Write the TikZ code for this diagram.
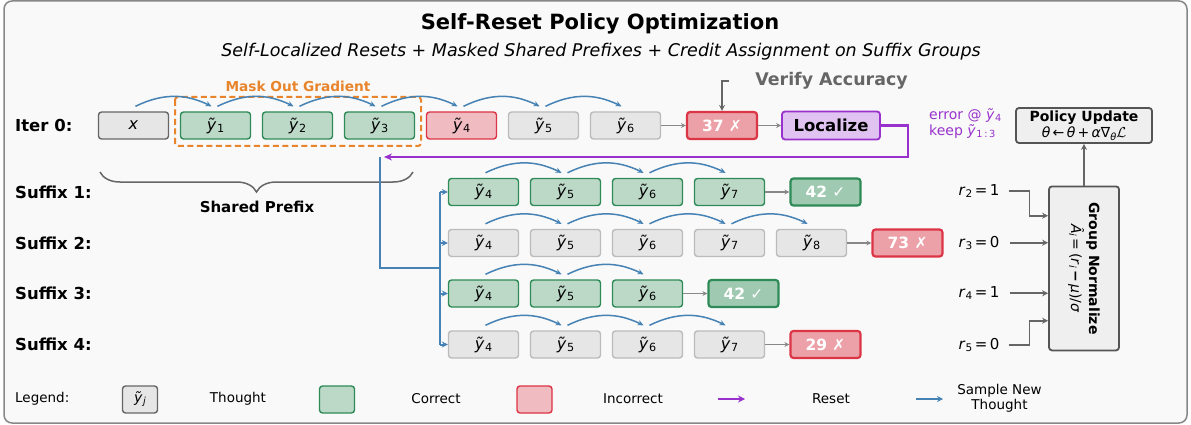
\documentclass[tikz,border=0pt]{standalone}
\usepackage{fontspec}
\setmainfont{DejaVu Sans}
\newfontfamily\symf{DejaVu Sans}
\usetikzlibrary{arrows.meta,calc,decorations.pathreplacing}
\definecolor{bgc}{HTML}{F9F9F9}
\definecolor{bgline}{HTML}{888888}
\definecolor{gfill}{HTML}{BCD9C8}
\definecolor{gline}{HTML}{2E8B57}
\definecolor{grfill}{HTML}{9FCAB1}
\definecolor{rfill}{HTML}{F0BBC1}
\definecolor{rline}{HTML}{DC3545}
\definecolor{rrfill}{HTML}{ECA1A8}
\definecolor{yfill}{HTML}{E6E6E6}
\definecolor{yline}{HTML}{BBBBBB}
\definecolor{dline}{HTML}{666666}
\definecolor{sblue}{HTML}{4682B4}
\definecolor{rpurple}{HTML}{9932CC}
\definecolor{lfill}{HTML}{E0C3F0}
\definecolor{orng}{HTML}{E8852C}
\definecolor{pfill}{HTML}{EFEFEF}
\definecolor{pline}{HTML}{555555}
\definecolor{carr}{HTML}{888888}
\newcommand\fsz[2]{\fontsize{#1pt}{#2pt}\selectfont}
\newcommand\sbs[1]{\raisebox{-0.15em}{\scalebox{0.7}{#1}}}
\newcommand\yt[1]{\textit{ỹ}\kern0.6pt\sbs{#1}}
\tikzset{
  box/.style={rounded corners=3pt, minimum width=70pt, minimum height=27pt, line width=1.4pt, inner sep=0pt, font=\fsz{16}{19}},
  gbox/.style={box, fill=gfill, draw=gline},
  ybox/.style={box, fill=yfill, draw=yline},
  rbox/.style={box, fill=rfill, draw=rline},
  xbox/.style={box, fill=yfill, draw=dline},
  res/.style={box, line width=2.2pt, text=white, font=\fsz{15.5}{18}\bfseries},
  gres/.style={res, fill=grfill, draw=gline},
  rres/.style={res, fill=rrfill, draw=rline},
  samp/.style={draw=sblue, line width=1.5pt, -{Stealth[length=6pt,width=5.5pt]}},
  carrow/.style={draw=carr, line width=1.2pt, -{Stealth[length=5pt,width=5pt]}},
  garr/.style={draw=dline, line width=1.8pt, -{Stealth[length=6pt,width=6pt]}},
  trunk/.style={draw=sblue, line width=2pt},
  lab/.style={anchor=west, inner sep=0pt, font=\fsz{16.5}{20}\bfseries},
  rlab/.style={inner sep=0pt, font=\fsz{15}{18}},
  leg/.style={inner sep=0pt, font=\fsz{13.5}{16}},
}
\begin{document}
\begin{tikzpicture}[x=1pt,y=-1pt]
\useasboundingbox (0,0) rectangle (1191,425);
\fill[white] (0,0) rectangle (1191,425);
\draw[fill=bgc, draw=bgline, line width=1.5pt, rounded corners=8pt] (4,1) rectangle (1187,423);

% title
\node[inner sep=0pt, font=\fsz{21}{25}\bfseries] (title) at (600,24) {Self-Reset Policy Optimization};
\node[inner sep=0pt, font=\fsz{17.5}{20}\itshape] (sub) at (601,52) {Self-Localized Resets + Masked Shared Prefixes + Credit Assignment on Suffix Groups};

% row labels
\node[lab] (l0) at (15,125.5) {Iter 0:};
\node[lab] (l1) at (15,192) {Suffix 1:};
\node[lab] (l2) at (15,243) {Suffix 2:};
\node[lab] (l3) at (15,293.5) {Suffix 3:};
\node[lab] (l4) at (15,344.5) {Suffix 4:};

% mask box
\draw[orng, line width=2pt, dash pattern=on 6pt off 3.5pt, rounded corners=3pt] (175,97) rectangle (421,146);
\node[inner sep=0pt, text=orng, font=\fsz{13.7}{16}\bfseries] (mask) at (298,86) {Mask Out Gradient};

% iter 0 row
\node[xbox] (x0) at (133.5,125.5) {\textit{x}};
\node[gbox] (a1) at (215.5,125.5) {\yt{1}};
\node[gbox] (a2) at (297.5,125.5) {\yt{2}};
\node[gbox] (a3) at (379.5,125.5) {\yt{3}};
\node[rbox] (a4) at (461.5,125.5) {\yt{4}};
\node[ybox] (a5) at (543.5,125.5) {\yt{5}};
\node[ybox] (a6) at (625.5,125.5) {\yt{6}};
\node[rres] (r0) at (722,125.5) {37 {\symf\mdseries ✗}};
\node[box, minimum width=98pt, minimum height=28pt, fill=lfill, draw=rpurple, line width=1.8pt, font=\fsz{16.5}{20}\bfseries] (loc) at (831,125.5) {Localize};
\foreach \a/\b in {x0/a1,a1/a2,a2/a3,a3/a4,a4/a5,a5/a6}
  \draw[samp] ($(\a.north)+(2,-5)$) to[bend left=26] ($(\b.north)+(-4,-5)$);
\draw[carrow] (a6.east) -- (r0.west);
\draw[carrow] (r0.east) -- (loc.west);

% verify
\node[inner sep=0pt, text=dline, font=\fsz{17.4}{20}\bfseries] (ver) at (831.5,81) {Verify Accuracy};
\coordinate (va) at (729,81);
\draw[garr, line width=1.5pt] (va) -| (r0.north);

% error text
\node[inner sep=0pt, anchor=north west, text=rpurple, font=\fsz{14}{17}, align=left] (err) at (929,108) {error @ \yt{4}\\[-1pt]keep \yt{1\,:\,3}};

% reset line
\coordinate (rs) at (384,157);
\draw[draw=rpurple, line width=2.2pt, -{Stealth[length=8pt,width=7pt]}] (loc.east) -- ++(27,0) |- (rs);

% shared prefix brace
\coordinate (bra) at (100,172);
\coordinate (brb) at (413,172);
\draw[dline, line width=1.5pt, decorate, decoration={brace, amplitude=20pt, mirror}] (bra) -- (brb);
\node[inner sep=0pt, font=\fsz{15}{18}\bfseries] (sp) at (257,207) {Shared Prefix};

% suffix rows
\foreach \i/\yy in {1/192,2/243,3/293.5,4/344.5}{
  \foreach \k/\xx in {4/483.5,5/565.5,6/647.5,7/729.5,8/811.5}{
    \coordinate (p\i\k) at (\xx,\yy);
  }
}
% suffix 1
\node[gbox] (s14) at (p14) {\yt{4}};
\node[gbox] (s15) at (p15) {\yt{5}};
\node[gbox] (s16) at (p16) {\yt{6}};
\node[gbox] (s17) at (p17) {\yt{7}};
\node[gres] (res1) at (825.5,192) {42 {\symf\mdseries ✓}};
% suffix 2
\node[ybox] (s24) at (p24) {\yt{4}};
\node[ybox] (s25) at (p25) {\yt{5}};
\node[ybox] (s26) at (p26) {\yt{6}};
\node[ybox] (s27) at (p27) {\yt{7}};
\node[ybox] (s28) at (p28) {\yt{8}};
\node[rres] (res2) at (907.5,243) {73 {\symf\mdseries ✗}};
% suffix 3
\node[gbox] (s34) at (p34) {\yt{4}};
\node[gbox] (s35) at (p35) {\yt{5}};
\node[gbox] (s36) at (p36) {\yt{6}};
\node[gres] (res3) at (743.5,293.5) {42 {\symf\mdseries ✓}};
% suffix 4
\node[ybox] (s44) at (p44) {\yt{4}};
\node[ybox] (s45) at (p45) {\yt{5}};
\node[ybox] (s46) at (p46) {\yt{6}};
\node[ybox] (s47) at (p47) {\yt{7}};
\node[rres] (res4) at (825.5,344.5) {29 {\symf\mdseries ✗}};

\foreach \a/\b in {s14/s15,s15/s16,s16/s17,s24/s25,s25/s26,s26/s27,s27/s28,s34/s35,s35/s36,s44/s45,s45/s46,s46/s47}
  \draw[samp] ($(\a.north)+(2,-5)$) to[bend left=26] ($(\b.north)+(-4,-5)$);
\draw[carrow] (s17.east) -- (res1.west);
\draw[carrow] (s28.east) -- (res2.west);
\draw[carrow] (s36.east) -- (res3.west);
\draw[carrow] (s47.east) -- (res4.west);

% blue trunk
\coordinate (bt) at (380,157);
\coordinate (bj) at (440,268);
\draw[trunk] (bt) |- (bj);
\draw[trunk] (bj |- s14.west) -- (bj |- s44.west);
\foreach \n in {s14,s24,s34,s44}
  \draw[draw=sblue, line width=2pt, -{Stealth[length=6pt,width=6pt]}] (bj |- \n.west) -- (\n.west);

% rewards
\node[rlab] (rl2) at (979,191) {\textit{r}\sbs{2}\,=\,1};
\node[rlab] (rl3) at (979,242.7) {\textit{r}\sbs{3}\,=\,0};
\node[rlab] (rl4) at (979,293.3) {\textit{r}\sbs{4}\,=\,1};
\node[rlab] (rl5) at (979,345) {\textit{r}\sbs{5}\,=\,0};

% group normalize
\node[draw=pline, fill=pfill, line width=1.8pt, rounded corners=3pt, minimum width=70pt, minimum height=164pt, inner sep=0pt] (gn) at (1084,268.4) {};
\node[rotate=-90, inner sep=0pt, align=center, font=\fsz{14}{18}] (gnt) at (gn.center) {{\bfseries Group Normalize}\\\textit{Â}\sbs{\textit{i}}\,=\,(\textit{r}\sbs{\textit{i}}\,\textbf{−}\,\textit{μ})/\textit{σ}};

\draw[garr] ($(rl2.east)+(9,0)$) -- ++(21,0) |- ($(gn.west)+(0,-52.7)$);
\draw[garr] ($(rl3.east)+(10,0)$) -- (gn.west |- rl3.east);
\draw[garr] ($(rl4.east)+(10,0)$) -- (gn.west |- rl4.east);
\draw[garr] ($(rl5.east)+(9,0)$) -- ++(21,0) |- ($(gn.west)+(0,52.3)$);

% policy update
\node[draw=pline, fill=pfill, line width=1.8pt, rounded corners=3pt, minimum width=136pt, minimum height=35pt, inner sep=0pt, align=center, font=\fsz{14}{16.5}] (pu) at (1084,125.5) {{\bfseries Policy Update}\\\textit{θ}\,←\,\textit{θ}\,+\,\textit{α}∇\sbs{\textit{θ}}$\mathcal{L}$};
\draw[garr] (gn.north) -- (pu.south);

% legend
\node[leg, anchor=west] (lg) at (15,399) {Legend:};
\node[box, fill=yfill, draw=dline, minimum width=35pt, font=\fsz{14}{16}] (lgb) at (140,399.5) {\yt{\textit{j}}};
\node[leg] (lgt) at (238,399) {Thought};
\node[box, fill=gfill, draw=gline, minimum width=35pt] (lgg) at (337,399.5) {};
\node[leg] (lgc) at (436,399) {Correct};
\node[box, fill=rfill, draw=rline, minimum width=35pt] (lgr) at (534.5,399.5) {};
\node[leg] (lgi) at (633,399) {Incorrect};
\coordinate (lpa) at (718,399);
\coordinate (lpb) at (745,399);
\draw[draw=rpurple, line width=2.5pt, -{Stealth[length=7pt,width=7pt]}] (lpa) -- (lpb);
\node[leg] (lgre) at (831,399) {Reset};
\coordinate (lba) at (916,399);
\coordinate (lbb) at (943,399);
\draw[draw=sblue, line width=1.6pt, -{Stealth[length=6pt,width=6pt]}] (lba) -- (lbb);
\node[leg, align=center, font=\fsz{13.5}{15.5}] (lgs) at (999.5,398.5) {Sample New\\Thought};
\end{tikzpicture}
\end{document}
